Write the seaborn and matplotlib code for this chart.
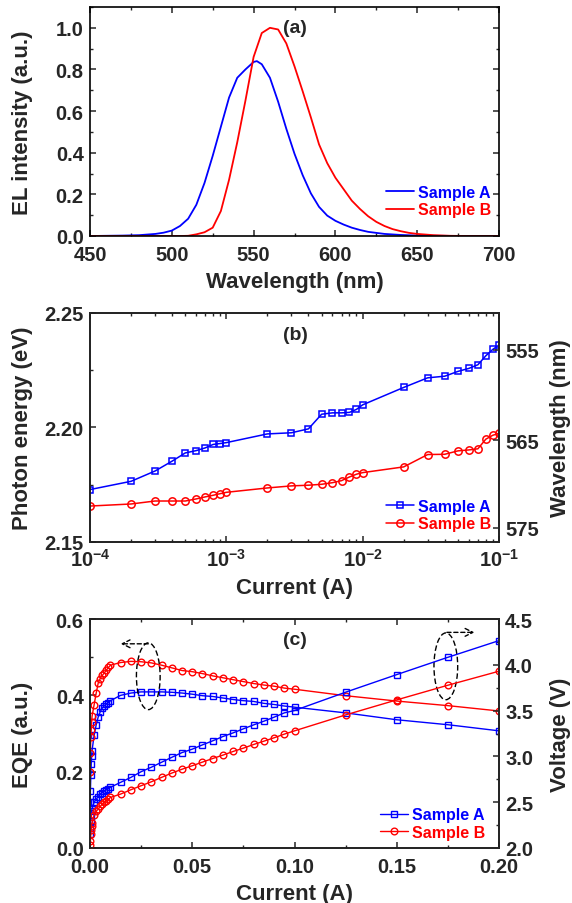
import numpy as np
import pandas as pd
import matplotlib
matplotlib.use("Agg")
import matplotlib.pyplot as plt
import seaborn as sns
from matplotlib.ticker import MultipleLocator, FixedLocator, FixedFormatter, LogLocator, NullFormatter
from matplotlib.patches import Ellipse

# ---------------- data ----------------
# (a) EL spectra
wl_a = [450, 460, 470, 480, 490, 495, 500, 505, 510, 515, 520, 525, 530, 535, 540, 545, 550, 552,
        555, 560, 565, 570, 575, 580, 585, 590, 595, 600, 605, 610, 615, 620, 630, 640, 650, 660, 680, 700]
el_a = [0.000, 0.001, 0.002, 0.004, 0.010, 0.016, 0.026, 0.048, 0.083, 0.150, 0.255, 0.385, 0.525,
        0.665, 0.760, 0.800, 0.836, 0.840, 0.825, 0.760, 0.645, 0.515, 0.395, 0.292, 0.205, 0.140,
        0.098, 0.073, 0.055, 0.040, 0.029, 0.020, 0.010, 0.005, 0.002, 0.001, 0.000, 0.000]
wl_b = [450, 480, 505, 510, 515, 520, 525, 530, 535, 540, 545, 550, 555, 560, 565, 570, 575, 580,
        585, 590, 595, 600, 605, 610, 615, 620, 625, 630, 635, 640, 645, 650, 660, 670, 680, 700]
el_b = [0.000, 0.000, 0.000, 0.001, 0.008, 0.018, 0.040, 0.120, 0.270, 0.450, 0.650, 0.860, 0.975,
        1.000, 0.992, 0.925, 0.815, 0.695, 0.570, 0.440, 0.350, 0.280, 0.225, 0.170, 0.130, 0.095,
        0.068, 0.048, 0.033, 0.023, 0.015, 0.010, 0.004, 0.001, 0.000, 0.000]

# (b) photon energy vs current
cur_b = [1e-4, 2e-4, 3e-4, 4e-4, 5e-4, 6e-4, 7e-4, 8e-4, 9e-4,
         1e-3, 2e-3, 3e-3, 4e-3, 5e-3, 6e-3, 7e-3, 8e-3, 9e-3,
         1e-2, 2e-2, 3e-2, 4e-2, 5e-2, 6e-2, 7e-2, 8e-2, 9e-2, 1e-1]
pe_a = [2.1729, 2.1765, 2.1810, 2.1853, 2.1889, 2.1899, 2.1911, 2.1926, 2.1930,
        2.1934, 2.1972, 2.1977, 2.1994, 2.2058, 2.2064, 2.2064, 2.2066, 2.2079,
        2.2099, 2.2175, 2.2217, 2.2224, 2.2245, 2.2258, 2.2274, 2.2313, 2.2341, 2.2360]
pe_b = [2.1657, 2.1666, 2.1679, 2.1679, 2.1679, 2.1688, 2.1697, 2.1704, 2.1711,
        2.1717, 2.1736, 2.1745, 2.1748, 2.1752, 2.1759, 2.1768, 2.1784, 2.1796,
        2.1803, 2.1828, 2.1882, 2.1883, 2.1898, 2.1902, 2.1907, 2.1949, 2.1966, 2.1975]
wl_ticks = [555, 565, 575]

# (c) EQE and voltage vs current
cur_c = [0.0001, 0.0002, 0.0004, 0.0006, 0.0008, 0.001, 0.002, 0.003, 0.004, 0.005, 0.006, 0.007,
         0.008, 0.009, 0.01, 0.015, 0.02, 0.025, 0.03, 0.035, 0.04, 0.045, 0.05, 0.055, 0.06, 0.065,
         0.07, 0.075, 0.08, 0.085, 0.09, 0.095, 0.1, 0.125, 0.15, 0.175, 0.2]
eqe_a = [0.12, 0.15, 0.19, 0.22, 0.24, 0.255, 0.295, 0.322, 0.343, 0.357, 0.367, 0.373, 0.377,
         0.381, 0.386, 0.400, 0.406, 0.409, 0.409, 0.409, 0.408, 0.406, 0.403, 0.399, 0.397, 0.393,
         0.389, 0.386, 0.384, 0.379, 0.376, 0.372, 0.369, 0.354, 0.336, 0.323, 0.307]
eqe_b = [0.20, 0.25, 0.29, 0.31, 0.33, 0.345, 0.375, 0.405, 0.432, 0.444, 0.452, 0.459, 0.466,
         0.473, 0.479, 0.486, 0.489, 0.488, 0.485, 0.479, 0.472, 0.465, 0.462, 0.457, 0.451, 0.446,
         0.441, 0.436, 0.431, 0.427, 0.424, 0.419, 0.416, 0.399, 0.385, 0.373, 0.359]
volt_a = [2.15, 2.22, 2.30, 2.36, 2.40, 2.43, 2.50, 2.53, 2.56, 2.59, 2.605, 2.62, 2.635, 2.648,
          2.663, 2.717, 2.771, 2.833, 2.882, 2.936, 2.99, 3.042, 3.079, 3.126, 3.170, 3.217, 3.257,
          3.301, 3.344, 3.384, 3.428, 3.475, 3.501, 3.701, 3.893, 4.082, 4.264]
volt_b = [2.03, 2.08, 2.15, 2.20, 2.24, 2.27, 2.36, 2.40, 2.425, 2.455, 2.478, 2.497, 2.515, 2.533,
          2.552, 2.589, 2.636, 2.68, 2.723, 2.771, 2.818, 2.860, 2.898, 2.938, 2.977, 3.014, 3.054,
          3.090, 3.130, 3.166, 3.203, 3.243, 3.279, 3.453, 3.617, 3.777, 3.93]

labels = ["Sample A", "Sample B"]
BLUE = "#0000FF"
RED = "#FF0000"

# ---------------- style ----------------
sns.set_style("ticks")
plt.rcParams["font.family"] = ["Liberation Sans", "DejaVu Sans"]
plt.rcParams["font.weight"] = "bold"
plt.rcParams["axes.labelweight"] = "bold"
plt.rcParams["mathtext.fontset"] = "custom"
plt.rcParams["mathtext.rm"] = "Liberation Sans:bold"
plt.rcParams["mathtext.bf"] = "Liberation Sans:bold"
plt.rcParams["axes.linewidth"] = 1.2
plt.rcParams["xtick.direction"] = "in"
plt.rcParams["ytick.direction"] = "in"
plt.rcParams["xtick.major.size"] = 4.5
plt.rcParams["ytick.major.size"] = 4.5
plt.rcParams["xtick.minor.size"] = 2.5
plt.rcParams["ytick.minor.size"] = 2.5
plt.rcParams["xtick.major.width"] = 1.1
plt.rcParams["ytick.major.width"] = 1.1
plt.rcParams["xtick.minor.width"] = 1.0
plt.rcParams["ytick.minor.width"] = 1.0
plt.rcParams["xtick.major.pad"] = 6.5
plt.rcParams["xtick.minor.pad"] = 6.5
plt.rcParams["ytick.major.pad"] = 4.5
plt.rcParams["ytick.minor.pad"] = 4.5

TICK_FS = 14.5
LAB_FS = 16
LEG_FS = 11.5
PAN_FS = 14

fig = plt.figure(figsize=(5.72, 9.04), dpi=100)
L, W, H = 90 / 572, 409 / 572, 229 / 904
ax_a = fig.add_axes([L, 1 - 237 / 904, W, H])
ax_b = fig.add_axes([L, 1 - 543 / 904, W, H])
ax_c = fig.add_axes([L, 1 - 849 / 904, W, H])

YLAB_X = -0.139   # right edge of left y-label
YLAB_R = 1.125    # left edge of right y-label
XLAB_Y = -0.155   # top of x-label


def style_ax(ax, right=True):
    ax.tick_params(which="both", top=True, right=right, labelsize=TICK_FS)
    for lab in ax.get_xticklabels() + ax.get_yticklabels():
        lab.set_fontweight("bold")
    for s in ax.spines.values():
        s.set_linewidth(1.2)
        s.set_color("black")
    ax.yaxis.set_label_coords(YLAB_X, 0.5)
    ax.xaxis.set_label_coords(0.5, XLAB_Y)


leg_kw = dict(loc="lower right", frameon=False, handlelength=1.75, handletextpad=0.25,
              labelspacing=0.15, borderaxespad=0.2, labelcolor="linecolor",
              prop={"weight": "bold", "size": LEG_FS})

# ---------------- (a) ----------------
sns.lineplot(x=wl_a, y=el_a, ax=ax_a, color=BLUE, lw=1.3, label=labels[0])
sns.lineplot(x=wl_b, y=el_b, ax=ax_a, color=RED, lw=1.3, label=labels[1])
ax_a.set_xlim(450, 700)
ax_a.set_ylim(0, 1.1)
ax_a.xaxis.set_major_locator(MultipleLocator(50))
ax_a.xaxis.set_minor_locator(MultipleLocator(25))
ax_a.set_yticks([0, 0.2, 0.4, 0.6, 0.8, 1.0])
ax_a.set_yticklabels(["0.0", "0.2", "0.4", "0.6", "0.8", "1.0"])
ax_a.yaxis.set_minor_locator(MultipleLocator(0.1))
ax_a.set_xlabel("Wavelength (nm)", fontsize=LAB_FS)
ax_a.set_ylabel("EL intensity (a.u.)", fontsize=LAB_FS)
style_ax(ax_a)
ax_a.text(0.502, 0.91, "(a)", transform=ax_a.transAxes, ha="center", va="center",
          fontsize=PAN_FS, fontweight="bold")
ax_a.legend(bbox_to_anchor=(1.005, 0.04), **leg_kw)

# ---------------- (b) ----------------
sns.lineplot(x=cur_b, y=pe_a, ax=ax_b, color=BLUE, lw=1.1, marker="s", ms=5,
             markerfacecolor="none", markeredgecolor=BLUE, mew=1.1, label=labels[0])
sns.lineplot(x=cur_b, y=pe_b, ax=ax_b, color=RED, lw=1.1, marker="o", ms=5.3,
             markerfacecolor="none", markeredgecolor=RED, mew=1.1, label=labels[1])
ax_b.set_xscale("log")
ax_b.set_xlim(1e-4, 1e-1)
ax_b.set_ylim(2.15, 2.25)
ax_b.xaxis.set_major_locator(FixedLocator([1e-4, 1e-3, 1e-2, 1e-1]))
ax_b.xaxis.set_major_formatter(FixedFormatter([r"$\mathbf{10^{-4}}$", r"$\mathbf{10^{-3}}$",
                                               r"$\mathbf{10^{-2}}$", r"$\mathbf{10^{-1}}$"]))
ax_b.xaxis.set_minor_locator(LogLocator(base=10, subs=np.arange(2, 10)))
ax_b.xaxis.set_minor_formatter(NullFormatter())
ax_b.set_yticks([2.15, 2.20, 2.25])
ax_b.set_yticklabels(["2.15", "2.20", "2.25"])
ax_b.yaxis.set_minor_locator(MultipleLocator(0.025))
ax_b.set_xlabel("Current (A)", fontsize=LAB_FS)
ax_b.set_ylabel("Photon energy (eV)", fontsize=LAB_FS)
style_ax(ax_b, right=False)
ax_b.tick_params(axis="x", which="major", pad=4.5)
ax_b.text(0.502, 0.905, "(b)", transform=ax_b.transAxes, ha="center", va="center",
          fontsize=PAN_FS, fontweight="bold")
ax_b.legend(bbox_to_anchor=(1.005, 0.005), **leg_kw)
ax_b2 = ax_b.twinx()
ax_b2.set_ylim(ax_b.get_ylim())
ax_b2.set_yticks([1239.84 / w for w in wl_ticks])
ax_b2.set_yticklabels([str(w) for w in wl_ticks])
ax_b2.yaxis.set_minor_locator(FixedLocator([]))
ax_b2.tick_params(axis="y", which="both", right=True, direction="in", labelsize=TICK_FS, pad=4.5)
for lab in ax_b2.get_yticklabels():
    lab.set_fontweight("bold")
ax_b2.set_ylabel("Wavelength (nm)", fontsize=LAB_FS)
ax_b2.yaxis.set_label_coords(YLAB_R, 0.5)

# ---------------- (c) ----------------
sns.lineplot(x=cur_c, y=eqe_a, ax=ax_c, color=BLUE, lw=1.0, marker="s", ms=4.6,
             markerfacecolor="none", markeredgecolor=BLUE, mew=1.0, label=labels[0])
sns.lineplot(x=cur_c, y=eqe_b, ax=ax_c, color=RED, lw=1.0, marker="o", ms=4.8,
             markerfacecolor="none", markeredgecolor=RED, mew=1.0, label=labels[1])
ax_c.set_xlim(0, 0.2)
ax_c.set_ylim(0, 0.6)
ax_c.set_xticks([0, 0.05, 0.10, 0.15, 0.20])
ax_c.set_xticklabels(["0.00", "0.05", "0.10", "0.15", "0.20"])
ax_c.xaxis.set_minor_locator(MultipleLocator(0.025))
ax_c.set_yticks([0, 0.2, 0.4, 0.6])
ax_c.set_yticklabels(["0.0", "0.2", "0.4", "0.6"])
ax_c.yaxis.set_minor_locator(MultipleLocator(0.1))
ax_c.set_xlabel("Current (A)", fontsize=LAB_FS)
ax_c.set_ylabel("EQE (a.u.)", fontsize=LAB_FS)
style_ax(ax_c, right=False)
leg_handles, leg_labels = ax_c.get_legend_handles_labels()
ax_c.get_legend().remove()

ax_c2 = ax_c.twinx()
sns.lineplot(x=cur_c, y=volt_a, ax=ax_c2, color=BLUE, lw=1.0, marker="s", ms=4.6,
             markerfacecolor="none", markeredgecolor=BLUE, mew=1.0, legend=False)
sns.lineplot(x=cur_c, y=volt_b, ax=ax_c2, color=RED, lw=1.0, marker="o", ms=4.8,
             markerfacecolor="none", markeredgecolor=RED, mew=1.0, legend=False)
ax_c2.set_ylim(2.0, 4.5)
ax_c2.set_yticks([2.0, 2.5, 3.0, 3.5, 4.0, 4.5])
ax_c2.set_yticklabels(["2.0", "2.5", "3.0", "3.5", "4.0", "4.5"])
ax_c2.yaxis.set_minor_locator(MultipleLocator(0.25))
ax_c2.tick_params(axis="y", which="both", right=True, direction="in", labelsize=TICK_FS, pad=4.5)
for lab in ax_c2.get_yticklabels():
    lab.set_fontweight("bold")
ax_c2.set_ylabel("Voltage (V)", fontsize=LAB_FS)
ax_c2.yaxis.set_label_coords(YLAB_R, 0.5)
ax_c2.text(0.502, 0.91, "(c)", transform=ax_c2.transAxes, ha="center", va="center",
           fontsize=PAN_FS, fontweight="bold")
ax_c2.legend(leg_handles, leg_labels, bbox_to_anchor=(0.99, -0.005), **leg_kw)

# annotation ellipses and arrows (in EQE axis coords)
for cx, cy in [(0.0285, 0.450), (0.1740, 0.476)]:
    ax_c.add_patch(Ellipse((cx, cy), 0.0116, 0.175, fill=False, ls=(0, (4, 2)),
                           lw=1.0, ec="black", zorder=5))
ax_c.annotate("", xy=(0.0150, 0.535), xytext=(0.0285, 0.535),
              arrowprops=dict(arrowstyle="->", ls=(0, (3, 2)), lw=1.0, color="black",
                              shrinkA=0, shrinkB=0, mutation_scale=14))
ax_c.annotate("", xy=(0.1880, 0.565), xytext=(0.1745, 0.565),
              arrowprops=dict(arrowstyle="->", ls=(0, (3, 2)), lw=1.0, color="black",
                              shrinkA=0, shrinkB=0, mutation_scale=14))

fig.savefig("out.png", dpi=100)
